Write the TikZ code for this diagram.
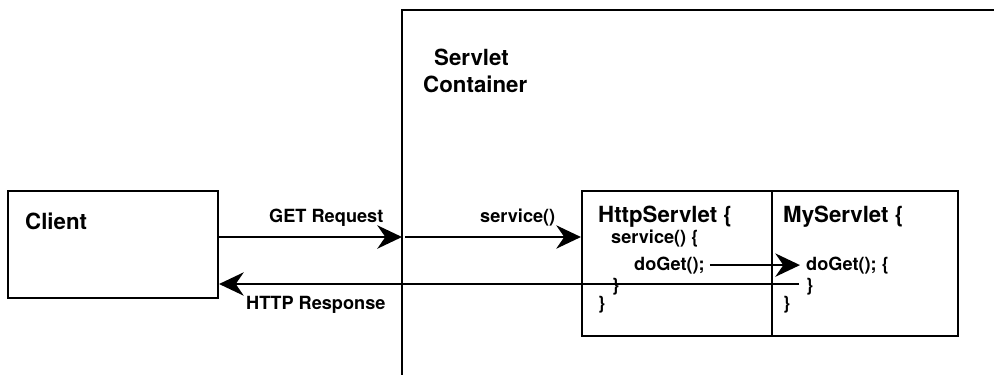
\documentclass[tikz,border=0pt]{standalone}
\usepackage{fontspec}
\setmainfont{TeX Gyre Heros}
\usetikzlibrary{arrows.meta,positioning}

\tikzset{
  box/.style={draw, line width=1.8pt, inner sep=0pt},
  big/.style={font=\fontsize{19}{22}\selectfont\bfseries, inner sep=0pt, anchor=base west},
  small/.style={font=\fontsize{15.5}{18}\selectfont\bfseries, inner sep=0pt, anchor=base west},
  wire/.style={line width=1.8pt},
  arr/.style={wire, -{Stealth[length=7.4mm, width=7mm, inset=2.4mm]}}
}

\begin{document}
\begin{tikzpicture}[x=0.3mm, y=-0.3mm]
  \useasboundingbox (0,0) rectangle (994,374);
  % container
  \draw[wire] (402,376) -- (402,10) -- (996,10);
  \node[big] (servlbl) at (434,65) {Servlet};
  \node[big] (contlbl) at (423,92) {Container};
  % boxes
  \node[box, minimum width=63mm, minimum height=32.1mm] (client) at (113,244.5) {};
  \node[box, minimum width=57mm, minimum height=43.5mm] (http) at (677,263.5) {};
  \node[box, minimum width=55.8mm, minimum height=43.5mm] (my) at (865,263.5) {};
  \node[big] (clientlbl) at (25,229) {Client};
  % HttpServlet
  \node[big] (httplbl) at (598,222) {HttpServlet \{};
  \node[small] (hsvc) at (611,243) {service() \{};
  \node[small] (hget) at (634,270) {doGet();};
  \node[small] (hend1) at (612,291) {\}};
  \node[small] (hend2) at (598,309) {\}};
  % MyServlet
  \node[big] (mylbl) at (783,222) {MyServlet \{};
  \node[small] (mget) at (806,270) {doGet(); \{};
  \node[small] (mend1) at (806,291) {\}};
  \node[small] (mend2) at (783,309) {\}};
  % arrows
  \coordinate (cin) at (402,237);
  \coordinate (cout) at (405,237);
  \coordinate (back) at (799,284);
  \draw[arr] (client.east |- cin) -- (cin);
  \node[small] (getlbl) at (269,222) {GET Request};
  \draw[arr] (cout) -- (cout -| http.west);
  \node[small] (svclbl) at (480,222) {service()};
  \draw[arr] ([xshift=1.5mm]hget.east) -- ([xshift=-1.8mm]hget.east -| mget.west);
  \draw[arr] (back) -- (back -| client.east);
  \node[small] (resplbl) at (246,309) {HTTP Response};
\end{tikzpicture}
\end{document}
